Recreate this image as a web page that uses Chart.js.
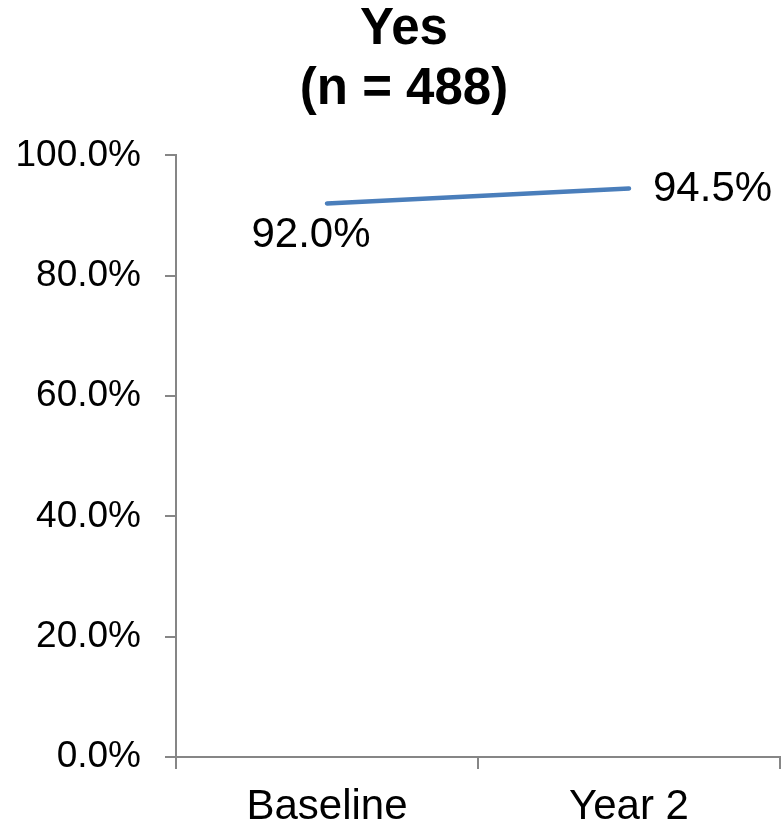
<!DOCTYPE html>
<html>
<head>
<meta charset="utf-8">
<script src="https://cdn.jsdelivr.net/npm/chart.js@4.4.0/dist/chart.umd.min.js"></script>
<style>
html,body{margin:0;padding:0;background:#fff;}
#wrap{width:784px;height:827px;}
</style>
</head>
<body>
<div id="wrap"><canvas id="c" width="784" height="827"></canvas></div>
<script>
const categories = ["Baseline", "Year 2"];
const values = [92.0, 94.5];
const dataLabels = ["92.0%", "94.5%"];
const titleLines = ["Yes", "(n = 488)"];
const yTicks = [0, 20, 40, 60, 80, 100];

const FONT = "'Liberation Sans', Arial, sans-serif";
const AXIS = "#868686";

const labelPlugin = {
  id: 'pointLabels',
  afterLayout(chart) {
    if (chart.titleBlock) {
      chart.titleBlock.left += 28;
    }
  },
  afterDatasetsDraw(chart) {
    const ctx = chart.ctx;
    const meta = chart.getDatasetMeta(0);
    ctx.save();
    ctx.font = "42px " + FONT;
    ctx.fillStyle = "#000";
    meta.data.forEach((pt, i) => {
      if (i === 0) {
        ctx.textAlign = "center";
        ctx.textBaseline = "middle";
        ctx.fillText(dataLabels[i], pt.x - 16, pt.y + 32);
      } else {
        ctx.textAlign = "left";
        ctx.textBaseline = "middle";
        ctx.fillText(dataLabels[i], pt.x + 24, pt.y + 1);
      }
    });
    ctx.restore();
  }
};

new Chart(document.getElementById('c'), {
  type: 'line',
  data: {
    labels: categories,
    datasets: [{
      data: values,
      borderColor: "#4A7EBB",
      borderWidth: 4.5,
      pointRadius: 0,
      tension: 0,
      fill: false,
      borderCapStyle: 'round'
    }]
  },
  plugins: [labelPlugin],
  options: {
    responsive: false,
    animation: false,
    layout: { padding: { left: 0, right: 4, top: 0, bottom: 0 } },
    plugins: {
      legend: { display: false },
      tooltip: { enabled: false },
      title: {
        display: true,
        text: titleLines,
        color: "#000",
        font: { family: FONT, size: 51, weight: 'bold', lineHeight: 1.18 },
        padding: { top: 0, bottom: 35 }
      }
    },
    scales: {
      x: {
        offset: true,
        grid: { display: true, offset: true, drawOnChartArea: false, drawTicks: true, tickLength: 12, color: AXIS, lineWidth: 2 },
        border: { display: true, color: AXIS, width: 2 },
        ticks: { color: "#000", font: { family: FONT, size: 42 }, padding: 13, maxRotation: 0 },
        afterFit(s) { s.height = 70; }
      },
      y: {
        min: 0, max: 100,
        afterBuildTicks(s) { s.ticks = yTicks.map(v => ({ value: v })); },
        grid: { display: true, drawOnChartArea: false, drawTicks: true, tickLength: 11, color: AXIS, lineWidth: 2 },
        border: { display: true, color: AXIS, width: 2 },
        ticks: { color: "#000", font: { family: FONT, size: 37 }, padding: 24,
          callback: v => v.toFixed(1) + "%" },
        afterFit(s) { s.width = 176; }
      }
    }
  }
});
</script>
</body>
</html>
